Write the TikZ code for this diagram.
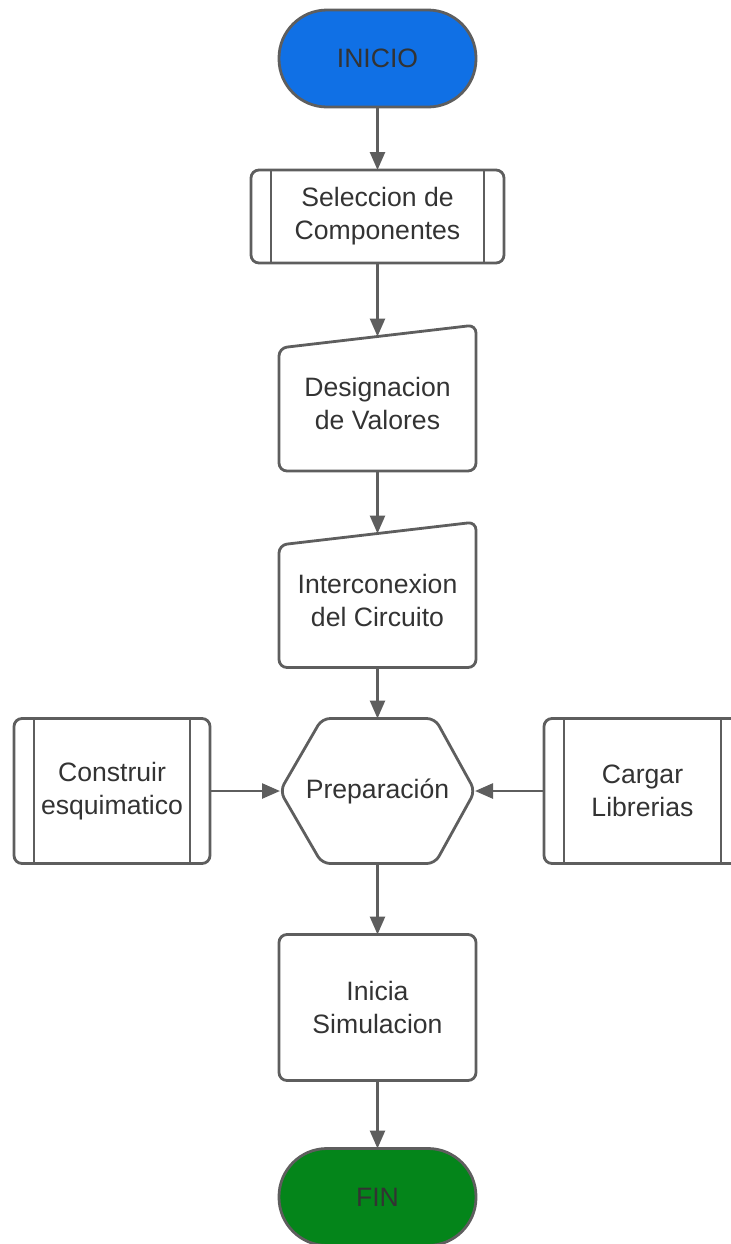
\documentclass[tikz,border=0pt]{standalone}
\usepackage{fontspec}
\setmainfont{Liberation Sans}
\usetikzlibrary{arrows.meta,positioning}
\definecolor{LineGray}{HTML}{5E5E5E}
\definecolor{TextGray}{HTML}{333333}
\definecolor{StartBlue}{HTML}{1070E5}
\definecolor{EndGreen}{HTML}{04851A}

\begin{document}
\begin{tikzpicture}[x=0.5pt, y=-0.5pt, >={Triangle[length=9pt,width=7.5pt]},
    base/.style={rectangle, draw=LineGray, line width=1.4pt, text=TextGray, align=center, font=\fontsize{13.3}{16.5}\selectfont, inner sep=0pt, outer sep=0pt},
    terminal/.style={base, minimum width=98.5pt, minimum height=48.5pt, rounded corners=24pt},
    subproc/.style={base, rounded corners=4pt, path picture={
        \draw[LineGray, line width=1.4pt] ([xshift=10pt]path picture bounding box.north west) -- ([xshift=10pt]path picture bounding box.south west)
            ([xshift=-10pt]path picture bounding box.north east) -- ([xshift=-10pt]path picture bounding box.south east);}},
    proc/.style={base, minimum width=98.5pt, minimum height=73pt, rounded corners=4pt},
    shapeonly/.style={base, draw=none},
    outline/.style={draw=LineGray, line width=1.4pt, rounded corners=4pt},
    line/.style={draw=LineGray, line width=1.3pt}]

    \useasboundingbox (0,0) rectangle (731,1244);

    \node [terminal, fill=StartBlue] (ini) at (377.5,58.5) {INICIO};
    \node [subproc, minimum width=126.5pt, minimum height=46.5pt, below=31.5pt of ini] (sel) {Seleccion de\\Componentes};
    \node [shapeonly, minimum width=98.5pt, minimum height=67.25pt, below=36.75pt of sel] (des) {Designacion\\de Valores};
    \node [shapeonly, minimum width=98.5pt, minimum height=67pt, below=31.25pt of des] (int) {Interconexion\\del Circuito};
    \node [shapeonly, minimum width=97.5pt, minimum height=72.5pt, below=25.5pt of int] (prep) {Preparación};
    \node [subproc, minimum width=98pt, minimum height=72.5pt, left=35pt of prep] (esq) {Construir\\esquimatico};
    \node [subproc, minimum width=98.5pt, minimum height=72.5pt, right=34.5pt of prep] (lib) {Cargar\\Librerias};
    \node [proc, below=35.5pt of prep] (sim) {Inicia\\Simulacion};
    \node [terminal, fill=EndGreen, below=34pt of sim] (fin) {FIN};

    % manual input shapes
    \draw [outline] ([yshift=-5.75pt]des.north west) -- ([yshift=5.75pt]des.north east) -- (des.south east) -- (des.south west) -- cycle;
    \draw [outline] ([yshift=-5.75pt]int.north west) -- ([yshift=5.75pt]int.north east) -- (int.south east) -- (int.south west) -- cycle;
    % preparation hexagon
    \draw [outline] (prep.west) -- ([xshift=21pt]prep.north west) -- ([xshift=-20pt]prep.north east) -- (prep.east)
        -- ([xshift=-20pt]prep.south east) -- ([xshift=21pt]prep.south west) -- cycle;

    \draw [->, line] (ini) -- (sel);
    \draw [->, line] (sel) -- (des);
    \draw [->, line] (des) -- (int);
    \draw [->, line] (int) -- (prep);
    \draw [->, line] (esq) -- (prep);
    \draw [->, line] (lib) -- (prep);
    \draw [->, line] (prep) -- (sim);
    \draw [->, line] (sim) -- (fin);
\end{tikzpicture}
\end{document}
